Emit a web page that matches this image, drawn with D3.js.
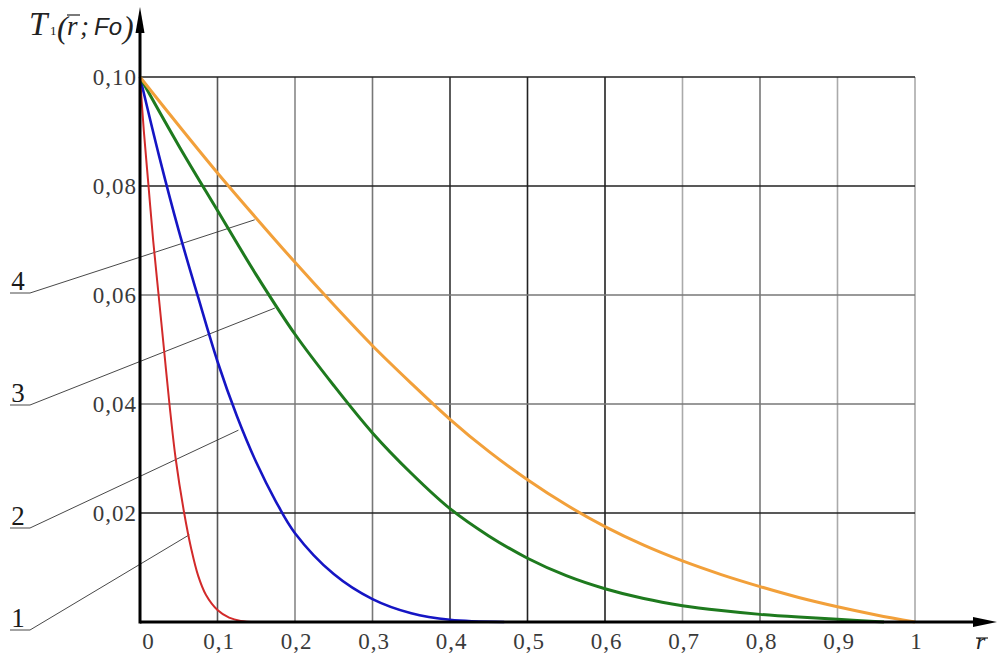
<!doctype html>
<html lang="ru">
<head>
<meta charset="utf-8">
<script src="https://d3js.org/d3.v7.min.js"></script>
<style>
  body { margin: 0; background: #fff; }
  svg { display: block; }
</style>
</head>
<body>
<svg id="svg1"></svg>
<script>
// ---- data ----
const xTicks = [0, 0.1, 0.2, 0.3, 0.4, 0.5, 0.6, 0.7, 0.8, 0.9, 1];
const xTickLabels = ["0", "0,1", "0,2", "0,3", "0,4", "0,5", "0,6", "0,7", "0,8", "0,9", "1"];
const yTicks = [0.02, 0.04, 0.06, 0.08, 0.10];
const yTickLabels = ["0,02", "0,04", "0,06", "0,08", "0,10"];

// curve 1 (red)
const r1 = [0, 0.005, 0.011, 0.017, 0.024, 0.031, 0.038, 0.046, 0.057, 0.066, 0.075, 0.085, 0.1, 0.115, 0.13, 0.15];
const T1 = [0.1, 0.09, 0.08, 0.07, 0.06, 0.05, 0.04, 0.03, 0.02, 0.0135, 0.0085, 0.005, 0.0022, 0.0008, 0.0002, 0];
// curve 2 (blue)
const r2 = [0, 0.025, 0.05, 0.075, 0.1, 0.125, 0.15, 0.175, 0.2, 0.25, 0.3, 0.35, 0.4, 0.47];
const T2 = [0.1, 0.0853, 0.0718, 0.0596, 0.0478, 0.0378, 0.0293, 0.0222, 0.0163, 0.0088, 0.0042, 0.0016, 0.0004, 0];
// curve 3 (green)
const r3 = [0, 0.05, 0.1, 0.15, 0.2, 0.25, 0.3, 0.35, 0.4, 0.45, 0.5, 0.55, 0.6, 0.65, 0.7, 0.75, 0.8, 0.85, 0.9, 0.96];
const T3 = [0.1, 0.0874, 0.0755, 0.0637, 0.0528, 0.0434, 0.0347, 0.0273, 0.0208, 0.0158, 0.0117, 0.0085, 0.0061, 0.0043, 0.003, 0.0021, 0.0014, 0.0009, 0.0005, 0];
// curve 4 (orange)
const r4 = [0, 0.05, 0.1, 0.15, 0.2, 0.25, 0.3, 0.35, 0.4, 0.45, 0.5, 0.55, 0.6, 0.65, 0.7, 0.75, 0.8, 0.85, 0.9, 0.95, 1];
const T4 = [0.1, 0.0911, 0.0824, 0.0741, 0.066, 0.0582, 0.0507, 0.0438, 0.0372, 0.0313, 0.0261, 0.0215, 0.0175, 0.0141, 0.0112, 0.0087, 0.0065, 0.0045, 0.0028, 0.0013, 0];

const curveNames = ["1", "2", "3", "4"];
// points on each curve where the leader line ends
const leaderR = [0.0636, 0.127, 0.174, 0.148];
const leaderT = [0.016, 0.0352, 0.0576, 0.0738];

// ---- layout ----
const width = 998, height = 654;
const serif = '"Liberation Serif", "Times New Roman", serif';
const sans = '"Liberation Sans", Arial, sans-serif';
const colors = ["#d22a2a", "#1515c4", "#1e7a1e", "#f2a03a"];
const widths = [2, 2.6, 3, 3];
// the scan shows some grid lines darker than others
const vShade = { 0.1: "#555", 0.2: "#888", 0.3: "#777", 0.4: "#333", 0.5: "#222", 0.6: "#222", 0.7: "#aaa", 0.8: "#777", 0.9: "#aaa", 1: "#aaa" };
const hShade = { 0.02: "#222", 0.04: "#777", 0.06: "#777", 0.08: "#222", 0.1: "#222" };

const svg = d3.select("#svg1").attr("width", width).attr("height", height);
svg.append("rect").attr("width", width).attr("height", height).attr("fill", "#fff");

const x = d3.scaleLinear().domain([0, 1]).range([140, 915]);
const y = d3.scaleLinear().domain([0, 0.1]).range([622, 77]);

// grid
const grid = svg.append("g");
grid.selectAll(".vg")
  .data(xTicks.filter(d => d > 0))
  .join("line")
  .attr("x1", d => x(d)).attr("x2", d => x(d))
  .attr("y1", y(0)).attr("y2", y(0.1))
  .attr("stroke", d => vShade[d])
  .attr("stroke-width", 1.6);
grid.selectAll(".hg")
  .data(yTicks)
  .join("line")
  .attr("x1", x(0)).attr("x2", x(1))
  .attr("y1", d => y(d)).attr("y2", d => y(d))
  .attr("stroke", d => hShade[d])
  .attr("stroke-width", 1.6);

// leader lines and curve numbers
const labelY = [630, 528, 405, 293];
const lead = svg.append("g");
curveNames.forEach((name, i) => {
  lead.append("path")
    .attr("d", `M10,${labelY[i]}H30L${x(leaderR[i])},${y(leaderT[i])}`)
    .attr("fill", "none")
    .attr("stroke", "#333")
    .attr("stroke-width", 0.9);
  lead.append("text")
    .attr("x", 18).attr("y", labelY[i] - 3)
    .attr("text-anchor", "middle")
    .style("font-family", serif)
    .attr("font-size", 27)
    .attr("fill", "#1a1a1a")
    .text(name);
});

// curves
const series = [[r1, T1], [r2, T2], [r3, T3], [r4, T4]];
const lineGen = d3.line()
  .x(d => x(d[0]))
  .y(d => y(d[1]))
  .curve(d3.curveCatmullRom.alpha(0.5));
svg.append("g").selectAll("path")
  .data(series.map(s => s[0].map((r, k) => [r, s[1][k]])))
  .join("path")
  .attr("d", lineGen)
  .attr("fill", "none")
  .attr("stroke", (d, i) => colors[i])
  .attr("stroke-width", (d, i) => widths[i])
  .attr("stroke-linejoin", "round");

// axes lines with arrows
svg.append("line")
  .attr("x1", x(0)).attr("x2", 978)
  .attr("y1", y(0)).attr("y2", y(0))
  .attr("stroke", "#000").attr("stroke-width", 3);
svg.append("line")
  .attr("x1", x(0)).attr("x2", x(0))
  .attr("y1", y(0) + 1.5).attr("y2", 28)
  .attr("stroke", "#000").attr("stroke-width", 3);
svg.append("path")
  .attr("d", `M997,${y(0)}L973,${y(0) - 5}L973,${y(0) + 5}Z`)
  .attr("fill", "#000");
svg.append("path")
  .attr("d", `M${x(0)},7L${x(0) - 4.5},33L${x(0) + 4.5},33Z`)
  .attr("fill", "#000");

// tick labels
const xAxis = svg.append("g")
  .attr("transform", `translate(0, ${y(0)})`)
  .call(d3.axisBottom(x).tickValues(xTicks).tickFormat((d, i) => xTickLabels[i]).tickSize(0).tickPadding(11));
xAxis.select(".domain").remove();
xAxis.selectAll(".tick text")
  .style("font-family", serif)
  .style("font-size", "23px")
  .attr("letter-spacing", 1)
  .attr("fill", "#3a3a3a")
  .attr("dx", (d, i) => i === 0 ? 8 : 1);

const yAxis = svg.append("g")
  .attr("transform", `translate(${x(0)}, 0)`)
  .call(d3.axisLeft(y).tickValues(yTicks).tickFormat((d, i) => yTickLabels[i]).tickSize(0).tickPadding(3));
yAxis.select(".domain").remove();
yAxis.selectAll(".tick text")
  .style("font-family", serif)
  .style("font-size", "23px")
  .attr("letter-spacing", 1)
  .attr("fill", "#3a3a3a");

// axis titles
const title = svg.append("g").attr("fill", "#222").style("font-family", serif);
title.append("text").attr("x", 29).attr("y", 35).attr("font-size", 33).attr("font-style", "italic").text("T");
title.append("text").attr("x", 50).attr("y", 35).attr("font-size", 13).text("1");
title.append("text").attr("x", 57).attr("y", 38).attr("font-size", 32).attr("font-style", "italic").text("(");
title.append("text").attr("x", 67).attr("y", 35).attr("font-size", 27).attr("font-style", "italic").text("r");
title.append("line").attr("x1", 67).attr("x2", 80).attr("y1", 15).attr("y2", 15).attr("stroke", "#222").attr("stroke-width", 1.2);
title.append("text").attr("x", 80).attr("y", 35).attr("font-size", 27).attr("font-style", "italic").text(";");
title.append("text").attr("x", 94).attr("y", 35).attr("font-size", 24).attr("font-style", "italic")
  .style("font-family", sans).text("Fo");
title.append("text").attr("x", 123).attr("y", 38).attr("font-size", 32).attr("font-style", "italic").text(")");

svg.append("text").attr("x", 976).attr("y", 649).style("font-family", serif).attr("font-size", 24)
  .attr("font-style", "italic").attr("fill", "#222").text("r");
svg.append("line").attr("x1", 976).attr("x2", 988).attr("y1", 638).attr("y2", 638).attr("stroke", "#222").attr("stroke-width", 1.2);
</script>
</body>
</html>
